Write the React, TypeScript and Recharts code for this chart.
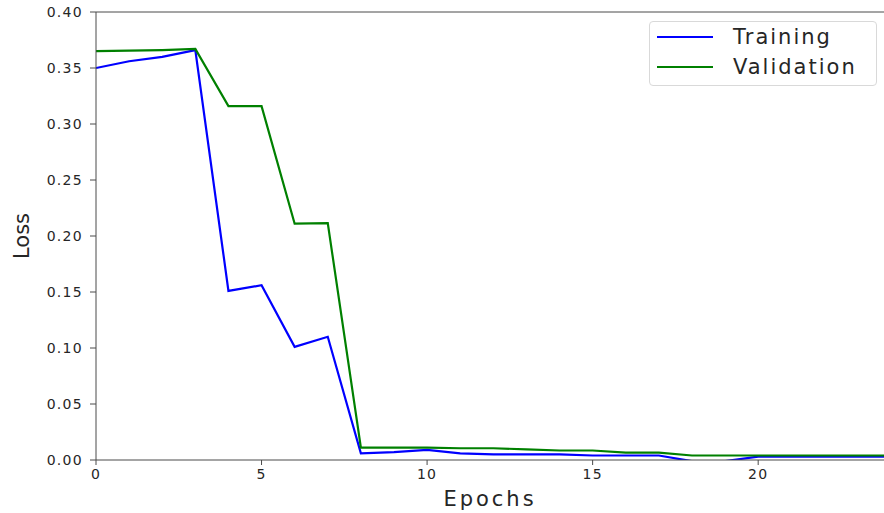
import { LineChart, Line, XAxis, YAxis, ReferenceLine, Legend } from 'recharts';

const FONT = '"DejaVu Sans", sans-serif';
const TEXT = '#262626';
const SPINE = '#4a4a4a';

// loss per epoch
const epochs = [0, 1, 2, 3, 4, 5, 6, 7, 8, 9, 10, 11, 12, 13, 14, 15, 16, 17, 18, 19, 20, 21, 22, 23, 24];
const training = [
  0.350, 0.356, 0.360, 0.366, 0.151, 0.156, 0.101, 0.110, 0.006, 0.007, 0.009, 0.006, 0.005,
  0.005, 0.005, 0.004, 0.004, 0.004, -0.001, -0.001, 0.003, 0.003, 0.003, 0.003, 0.003,
];
const validation = [
  0.365, 0.3655, 0.366, 0.367, 0.316, 0.316, 0.211, 0.2115, 0.011, 0.011, 0.011, 0.0105, 0.0105,
  0.0095, 0.0085, 0.0085, 0.0065, 0.0065, 0.004, 0.004, 0.004, 0.004, 0.004, 0.004, 0.004,
];
const xTicks = [0, 5, 10, 15, 20];
const yTicks = [0, 0.05, 0.1, 0.15, 0.2, 0.25, 0.3, 0.35, 0.4];

const data = epochs.map((epoch, i) => ({
  epoch,
  training: training[i],
  validation: validation[i],
}));

const tickStyle = { fill: TEXT, fontSize: 14, fontFamily: FONT, letterSpacing: 1.3 };

const renderLegend = (props: any) => (
  <div
    style={{
      boxSizing: 'border-box',
      width: 228,
      height: 65,
      border: '1px solid #d9d9d9',
      borderRadius: 4,
      background: '#fff',
      paddingLeft: 7,
      fontFamily: FONT,
      fontSize: 21,
      color: TEXT,
    }}
  >
    {(props.payload || []).map((entry: any) => (
      <div key={entry.value} style={{ display: 'flex', alignItems: 'center', height: 30 }}>
        <span
          style={{ display: 'inline-block', width: 56, height: 2, background: entry.color, marginRight: 20 }}
        />
        <span style={{ letterSpacing: 2 }}>{entry.value}</span>
      </div>
    ))}
  </div>
);

const renderLossLabel = (props: any) => {
  const vb = props.viewBox || {};
  const cx = 22;
  const cy = (vb.y ?? 12) + (vb.height ?? 448) / 2;
  return (
    <text
      x={cx}
      y={cy}
      transform={`rotate(-90 ${cx} ${cy})`}
      textAnchor="middle"
      dominantBaseline="central"
      fill={TEXT}
      fontFamily={FONT}
      fontSize={21}
    >
      Loss
    </text>
  );
};

export default function App() {
  return (
    <div style={{ position: 'absolute', left: 0, top: 0, background: '#fff' }}>
      <LineChart width={884} height={513} data={data} margin={{ top: 12, right: 0, left: 0, bottom: 0 }}>
        <XAxis
          dataKey="epoch"
          type="number"
          domain={[0, 23.8]}
          allowDataOverflow
          ticks={xTicks}
          height={53}
          stroke={SPINE}
          tickSize={5}
          tickMargin={4}
          tick={tickStyle}
          label={{
            value: 'Epochs',
            position: 'insideBottom',
            offset: 7,
            fill: TEXT,
            fontSize: 21,
            fontFamily: FONT,
            letterSpacing: 3,
          }}
        />
        <YAxis
          type="number"
          domain={[0, 0.4]}
          allowDataOverflow
          ticks={yTicks}
          width={96}
          stroke={SPINE}
          tickSize={6}
          tickMargin={7}
          tickFormatter={(v: number) => v.toFixed(2)}
          tick={tickStyle}
          label={{ content: renderLossLabel }}
        />
        <ReferenceLine y={0.4} stroke={SPINE} strokeWidth={1} />
        <Legend
          layout="horizontal"
          verticalAlign="middle"
          align="center"
          content={renderLegend}
          wrapperStyle={{ top: 21, left: 649, width: 228, height: 65 }}
        />
        <Line
          type="linear"
          dataKey="training"
          name="Training"
          stroke="#0000ff"
          strokeWidth={2.2}
          dot={false}
          isAnimationActive={false}
        />
        <Line
          type="linear"
          dataKey="validation"
          name="Validation"
          stroke="#008000"
          strokeWidth={2.2}
          dot={false}
          isAnimationActive={false}
        />
      </LineChart>
    </div>
  );
}
